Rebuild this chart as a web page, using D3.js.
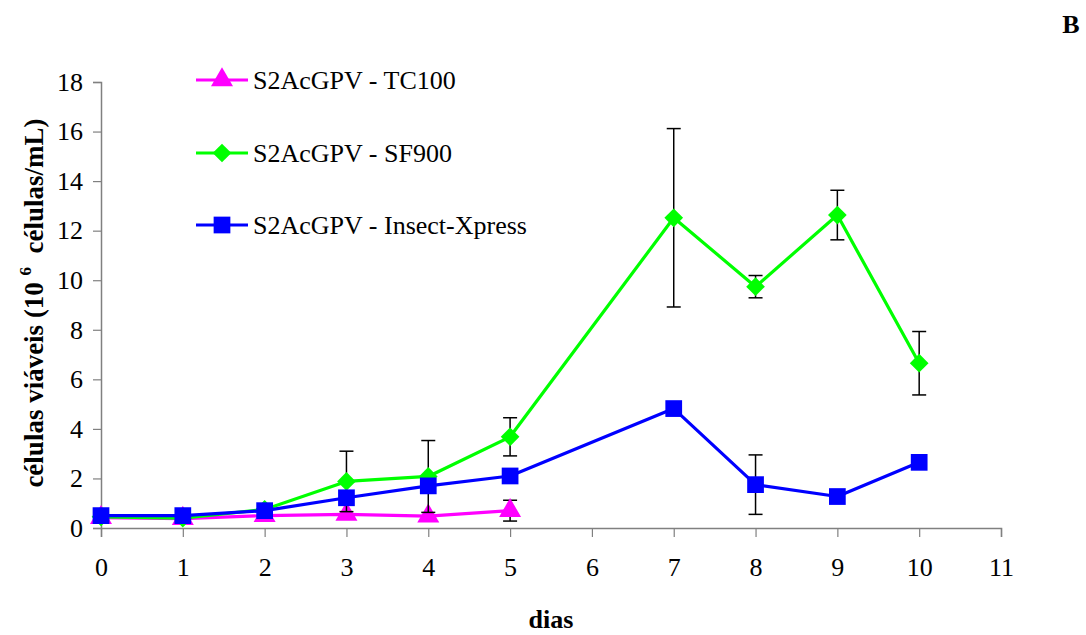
<!DOCTYPE html>
<html>
<head>
<meta charset="utf-8">
<script src="https://cdn.jsdelivr.net/npm/d3@7"></script>
<style>
  html, body { margin: 0; padding: 0; background: #fff; }
  svg { display: block; }
</style>
</head>
<body>
<svg id="chart" width="1086" height="635"></svg>
<script>
// Viable cell density (10^6 cells/mL) per day, three culture media
const xTicks = [0, 1, 2, 3, 4, 5, 6, 7, 8, 9, 10, 11];
const yTicks = [0, 2, 4, 6, 8, 10, 12, 14, 16, 18];

const daysTC100 = [0, 1, 2, 3, 4, 5];
const valTC100 = [0.42, 0.38, 0.5, 0.55, 0.48, 0.7];
const errTC100 = [0, 0, 0, 0, 0, 0.42];

const daysSF900 = [0, 1, 2, 3, 4, 5, 7, 8, 9, 10];
const valSF900 = [0.45, 0.4, 0.75, 1.88, 2.08, 3.68, 12.52, 9.74, 12.63, 6.65];
const errSF900 = [0, 0, 0, 1.22, 1.45, 0.77, 3.6, 0.45, 1.0, 1.28];

const daysIX = [0, 1, 2, 3, 4, 5, 7, 8, 9, 10];
const valIX = [0.5, 0.5, 0.7, 1.22, 1.7, 2.1, 4.82, 1.75, 1.27, 2.65];
const errIX = [0, 0, 0, 0, 0, 0, 0, 1.2, 0, 0];

const seriesNames = ["S2AcGPV - TC100", "S2AcGPV - SF900", "S2AcGPV - Insect-Xpress"];
const seriesColors = ["#ff00ff", "#00ff00", "#0000ff"];
// triangle, diamond (square turned 45 degrees), square
const seriesSymbols = [d3.symbolTriangle, d3.symbolSquare, d3.symbolSquare];
const seriesRotate = [0, 45, 0];
const seriesSizes = [210, 175, 280];

const FONT = "'Liberation Serif', 'Times New Roman', Times, serif";
const FS = "26px";

const series = [
  { days: daysTC100, vals: valTC100, errs: errTC100 },
  { days: daysSF900, vals: valSF900, errs: errSF900 },
  { days: daysIX, vals: valIX, errs: errIX }
].map((s, i) => ({
  name: seriesNames[i], color: seriesColors[i], symbol: seriesSymbols[i],
  rot: seriesRotate[i], size: seriesSizes[i],
  points: s.days.map((d, j) => ({ x: d, y: s.vals[j], e: s.errs[j] }))
}));

const svg = d3.select("#chart");
const x = d3.scaleLinear().domain([0, 11]).range([101, 1001]);
const y = d3.scaleLinear().domain([0, 18]).range([528, 82]);

const axisColor = "#808080";

// Y axis
const gy = svg.append("g").attr("transform", `translate(${x(0)},0)`)
  .call(d3.axisLeft(y).tickValues(yTicks).tickSizeOuter(0).tickSize(8).tickPadding(10));
gy.select(".domain").attr("stroke", axisColor).attr("stroke-width", 1.5);
gy.selectAll(".tick line").attr("stroke", axisColor).attr("stroke-width", 1.2);
gy.selectAll(".tick text").style("font-family", FONT).style("font-size", FS).attr("fill", "#000");

// X axis
const gx = svg.append("g").attr("transform", `translate(0,${y(0)})`)
  .call(d3.axisBottom(x).tickValues(xTicks).tickSizeOuter(0).tickSize(9).tickPadding(21));
gx.select(".domain").attr("stroke", axisColor).attr("stroke-width", 1.5);
gx.selectAll(".tick line").attr("stroke", axisColor).attr("stroke-width", 1.2);
gx.selectAll(".tick text").style("font-family", FONT).style("font-size", FS).attr("fill", "#000");

// Axis titles
svg.append("text").attr("x", 551).attr("y", 628).attr("text-anchor", "middle")
  .style("font-family", FONT).style("font-size", FS).style("font-weight", "bold").text("dias");

const yt = svg.append("text")
  .attr("transform", "translate(43,303) rotate(-90)")
  .attr("text-anchor", "middle")
  .style("font-family", FONT).style("font-size", "27px").style("font-weight", "bold")
  .attr("xml:space", "preserve");
yt.append("tspan").text("células viáveis (10 ");
yt.append("tspan").attr("dy", -12).style("font-size", "17px").text("6");
yt.append("tspan").attr("dy", 12).text("  células/mL)");

// Panel letter
svg.append("text").attr("x", 1071).attr("y", 33).attr("text-anchor", "middle")
  .style("font-family", FONT).style("font-size", FS).style("font-weight", "bold").text("B");

const line = d3.line().x(d => x(d.x)).y(d => y(d.y));

series.forEach(s => {
  // error bars
  const eb = svg.append("g");
  s.points.filter(p => p.e > 0).forEach(p => {
    const cx = x(p.x), y1 = y(p.y + p.e), y0 = y(p.y - p.e);
    eb.append("line").attr("x1", cx).attr("x2", cx).attr("y1", y1).attr("y2", y0)
      .attr("stroke", "#000").attr("stroke-width", 1.5);
    [y1, y0].forEach(yy => eb.append("line").attr("x1", cx - 7).attr("x2", cx + 7)
      .attr("y1", yy).attr("y2", yy).attr("stroke", "#000").attr("stroke-width", 1.5));
  });
  // line
  svg.append("path").datum(s.points).attr("d", line)
    .attr("fill", "none").attr("stroke", s.color).attr("stroke-width", 3.2)
    .attr("stroke-linejoin", "round");
  // markers
  svg.append("g").selectAll("path").data(s.points).join("path")
    .attr("transform", d => `translate(${x(d.x)},${y(d.y)}) rotate(${s.rot})`)
    .attr("d", d3.symbol().type(s.symbol).size(s.size))
    .attr("fill", s.color);
});

// Legend
const legendRows = [80, 153, 225];
series.forEach((s, i) => {
  const g = svg.append("g").attr("transform", `translate(196,${legendRows[i]})`);
  g.append("line").attr("x1", 0).attr("x2", 52).attr("y1", 0).attr("y2", 0)
    .attr("stroke", s.color).attr("stroke-width", 3);
  g.append("path").attr("transform", `translate(26,0) rotate(${s.rot})`)
    .attr("d", d3.symbol().type(s.symbol).size(s.size)).attr("fill", s.color);
  g.append("text").attr("x", 57).attr("y", 9)
    .style("font-family", FONT).style("font-size", FS).text(s.name);
});
</script>
</body>
</html>
